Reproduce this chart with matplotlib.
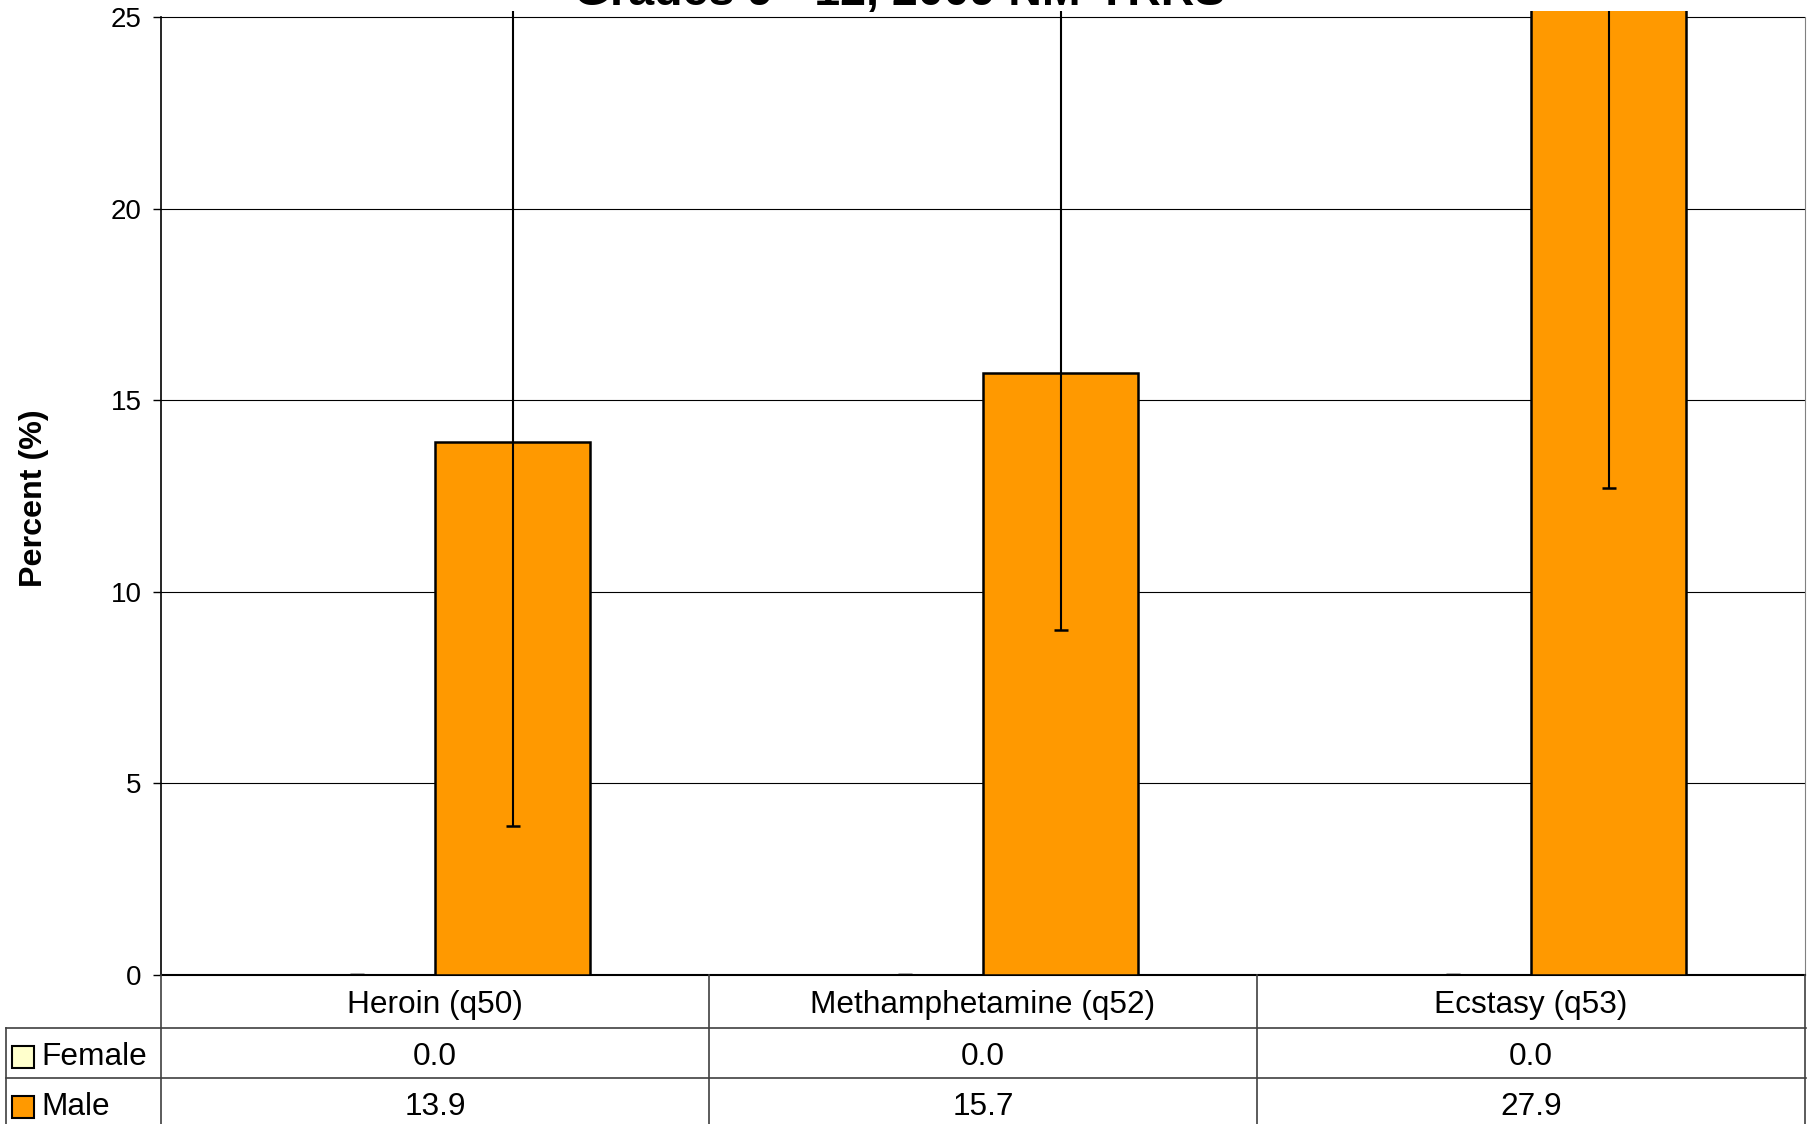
import matplotlib.pyplot as plt
import matplotlib.transforms as mtransforms
from matplotlib.patches import Rectangle
from matplotlib.lines import Line2D
import numpy as np

plt.rcParams['font.family'] = ['Liberation Sans', 'DejaVu Sans']

# data
categories = ["Heroin (q50)", "Methamphetamine (q52)", "Ecstasy (q53)"]
series_names = ["Female", "Male"]
female = [0.0, 0.0, 0.0]
male = [13.9, 15.7, 27.9]
female_lo = [0.0, 0.0, 0.0]
female_hi = [0.0, 0.0, 0.0]
male_lo = [3.9, 9.0, 12.7]
male_hi = [36.5, 25.8, 48.9]
yticks = [0, 5, 10, 15, 20, 25]
title = "Grades 9 - 12, 2009 NM-YRRS"

female_color = "#FFFFCC"
male_color = "#FF9900"

W, H = 1813, 1124
fig = plt.figure(figsize=(W / 100, H / 100), dpi=100)


def fx(px):
    return px / W


def fy(py):
    return 1 - py / H


ax = fig.add_axes([fx(161), fy(975), fx(1805) - fx(161), fy(11.2) - fy(975)])

x = np.arange(len(categories))
bw = 0.283
ax.bar(x - bw / 2, female, bw, color=female_color, edgecolor="black", linewidth=1.8, zorder=3)
ax.bar(x + bw / 2, male, bw, color=male_color, edgecolor="black", linewidth=1.8, zorder=3)

f_err = [np.array(female) - np.array(female_lo), np.array(female_hi) - np.array(female)]
m_err = [np.array(male) - np.array(male_lo), np.array(male_hi) - np.array(male)]
ax.errorbar(x - bw / 2, female, yerr=f_err, fmt="none", ecolor="black",
            elinewidth=1.5, capsize=5, capthick=2.4, zorder=4)
ax.errorbar(x + bw / 2, male, yerr=m_err, fmt="none", ecolor="black",
            elinewidth=1.5, capsize=5, capthick=1.8, zorder=4)

ax.set_xlim(-0.5, len(categories) - 0.5)
ax.set_ylim(0, 25.15)
ax.set_yticks(yticks)
ax.set_xticks([])
ax.tick_params(axis="y", length=5.8, width=1, labelsize=20, pad=8)
ax.yaxis.grid(True, color="black", linewidth=0.8)
ax.set_axisbelow(True)
ax.spines["top"].set_visible(False)
ax.spines["left"].set_bounds(0, 25)
ax.spines["left"].set_linewidth(1.2)
ax.spines["bottom"].set_linewidth(1.5)
ax.spines["right"].set_bounds(0, 25)
ax.spines["right"].set_color("#808080")

# title (mostly cut off at the top) and y label
fig.text(fx(900), fy(5), title, ha="center", va="baseline", fontsize=33.5, weight="bold")
fig.text(fx(34), fy(498), "Percent (%)", rotation=90, ha="center", va="center",
         fontsize=23.2, weight="bold")

# data table under the chart
tr = mtransforms.blended_transform_factory(ax.transData, fig.transFigure)
line_kw = dict(color="#404040", linewidth=1.2)
row_tops = [975, 1028, 1078]
row_mids = [1005.5, 1057, 1107]
tsize = 22.8

for py in row_tops[1:]:
    fig.add_artist(Line2D([fx(6), fx(1806)], [fy(py), fy(py)], transform=fig.transFigure, **line_kw))
for xb in np.arange(len(categories) + 1) - 0.5:
    fig.add_artist(Line2D([xb, xb], [fy(975), fy(1130)], transform=tr, **line_kw))
fig.add_artist(Line2D([fx(6), fx(6)], [fy(1028), fy(1130)], transform=fig.transFigure, **line_kw))

for i, cat in enumerate(categories):
    fig.text(x[i], fy(row_mids[0]), cat, transform=tr, ha="center", va="center", fontsize=tsize)
    fig.text(x[i], fy(row_mids[1]), f"{female[i]:.1f}", transform=tr, ha="center", va="center", fontsize=tsize)
    fig.text(x[i], fy(row_mids[2]), f"{male[i]:.1f}", transform=tr, ha="center", va="center", fontsize=tsize)

for name, color, py in zip(series_names, [female_color, male_color], row_mids[1:]):
    fig.add_artist(Rectangle((fx(12), fy(py + 11)), fx(22), 22 / H, transform=fig.transFigure,
                             facecolor=color, edgecolor="black", linewidth=1.5))
    fig.text(fx(41), fy(py), name, ha="left", va="center", fontsize=tsize)

fig.savefig("out.png", dpi=100)
